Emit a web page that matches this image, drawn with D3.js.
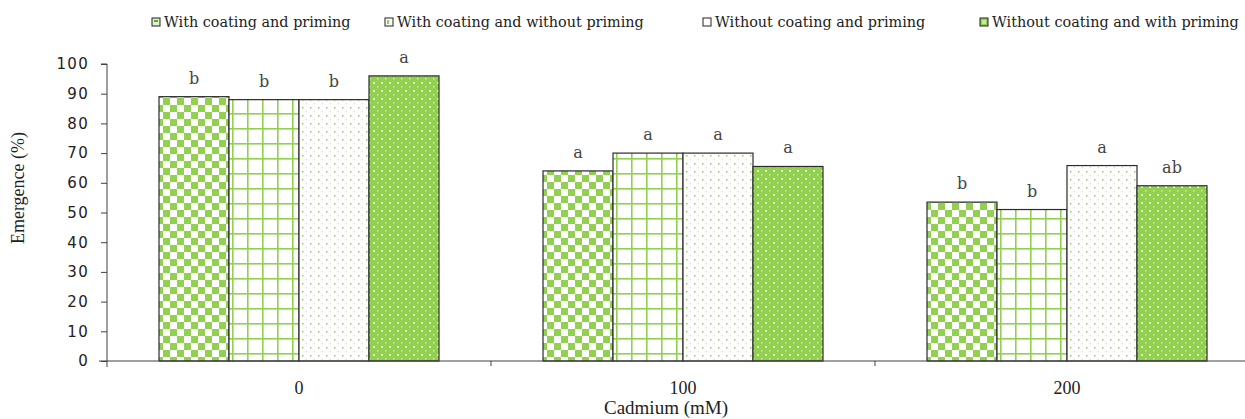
<!DOCTYPE html>
<html lang="en">
  <head>
    <meta charset="utf-8">
    <title>Emergence by cadmium level</title>
    <script src="https://d3js.org/d3.v7.min.js"></script>
    <style type="text/css">
      body,html{
        margin: 0;
        padding: 0;
        background: #fff;
      }
      .axis path, .axis line{
        stroke: #404040;
      }
      .legend text{
        font-family: "DejaVu Serif", serif;
        font-size: 14.4px;
        fill: #222;
      }
    </style>
  </head>
  <body>
    <script type="text/javascript">

      var w = 1245;
      var h = 419;

      // data
      var categories = ["0", "100", "200"];
      var seriesNames = [
        "With coating and priming",
        "With coating and without priming",
        "Without coating and priming",
        "Without coating and with priming"
      ];
      var values = [
        [89, 64, 53.5],
        [88, 70, 51],
        [88, 70, 65.8],
        [96, 65.5, 59]
      ];
      var letters = [
        ["b", "a", "b"],
        ["b", "a", "b"],
        ["b", "a", "a"],
        ["a", "a", "ab"]
      ];
      var yTicks = [0, 10, 20, 30, 40, 50, 60, 70, 80, 90, 100];

      var green = "#92d050";

      var margin = {top: 64, left: 107, bottom: 58};
      var plotBottom = h - margin.bottom;   // y of value 0
      var bandW = 384;

      var svg = d3.select("body")
        .append("svg")
        .attr("width", w)
        .attr("height", h);

      // patterns
      var defs = svg.append("defs");

      var p0 = defs.append("pattern").attr("id", "pat0")
        .attr("patternUnits", "userSpaceOnUse").attr("width", 14).attr("height", 14);
      p0.append("rect").attr("width", 14).attr("height", 14).attr("fill", "#fff");
      p0.append("rect").attr("width", 7).attr("height", 7).attr("fill", green);
      p0.append("rect").attr("x", 7).attr("y", 7).attr("width", 7).attr("height", 7).attr("fill", green);

      var p1 = defs.append("pattern").attr("id", "pat1")
        .attr("patternUnits", "userSpaceOnUse").attr("width", 15).attr("height", 15)
        .attr("x", 5).attr("y", 8);
      p1.append("rect").attr("width", 15).attr("height", 15).attr("fill", "#fff");
      p1.append("rect").attr("x", 0).attr("y", 0).attr("width", 1.6).attr("height", 15).attr("fill", green);
      p1.append("rect").attr("x", 0).attr("y", 0).attr("width", 15).attr("height", 1.6).attr("fill", green);

      var p2 = defs.append("pattern").attr("id", "pat2")
        .attr("patternUnits", "userSpaceOnUse").attr("width", 8).attr("height", 8);
      p2.append("rect").attr("width", 8).attr("height", 8).attr("fill", "#fff");
      p2.append("rect").attr("x", 3).attr("y", 3).attr("width", 1.5).attr("height", 1.5).attr("fill", green);
      p2.append("rect").attr("x", 7).attr("y", 7).attr("width", 1).attr("height", 1).attr("fill", "#c6e6a4");

      var p3 = defs.append("pattern").attr("id", "pat3")
        .attr("patternUnits", "userSpaceOnUse").attr("width", 8).attr("height", 8);
      p3.append("rect").attr("width", 8).attr("height", 8).attr("fill", green);
      p3.append("rect").attr("x", 2).attr("y", 2).attr("width", 2).attr("height", 2).attr("fill", "#e4f3d4");
      p3.append("rect").attr("x", 6).attr("y", 6).attr("width", 1.5).attr("height", 1.5).attr("fill", "#d2ebb8");

      // scales
      var x = d3.scaleBand()
        .domain(categories)
        .range([margin.left, margin.left + bandW * categories.length])
        .paddingInner(0)
        .paddingOuter(0);

      var xInner = d3.scaleBand()
        .domain(d3.range(seriesNames.length))
        .range([0, x.bandwidth()])
        .paddingOuter(0.743);

      var y = d3.scaleLinear()
        .domain([0, 100])
        .range([plotBottom, margin.top]);

      // bars
      var groups = svg.append("g").selectAll("g")
        .data(categories)
        .enter()
        .append("g")
        .attr("transform", function(d){ return "translate(" + x(d) + ",0)"; });

      seriesNames.forEach(function(s, si){
        groups.append("rect")
          .attr("x", function(d){ return xInner(si); })
          .attr("y", function(d, ci){ return y(values[si][ci]); })
          .attr("width", xInner.bandwidth())
          .attr("height", function(d, ci){ return plotBottom - y(values[si][ci]); })
          .attr("fill", "url(#pat" + si + ")")
          .attr("stroke", "#2b2b2b")
          .attr("stroke-width", 1.2);

        groups.append("text")
          .attr("x", function(d){ return xInner(si) + xInner.bandwidth() / 2; })
          .attr("y", function(d, ci){ return y(values[si][ci]) - 13; })
          .attr("text-anchor", "middle")
          .style("font-family", "'DejaVu Serif', serif")
          .style("font-size", "16px")
          .style("fill", "#444")
          .text(function(d, ci){ return letters[si][ci]; });
      });

      // y axis
      var yAxis = svg.append("g")
        .attr("class", "axis")
        .attr("transform", "translate(" + margin.left + ",0)")
        .call(d3.axisLeft(y).tickValues(yTicks).tickSize(6).tickPadding(12));
      yAxis.selectAll("text")
        .style("font-family", "'DejaVu Sans', sans-serif")
        .style("font-size", "15px")
        .style("letter-spacing", "1.3px")
        .style("fill", "#222");
      yAxis.select(".domain").attr("d", "M0," + (plotBottom + 6) + "V" + margin.top + "H-6");

      // x axis
      var xAxis = svg.append("g")
        .attr("class", "axis")
        .attr("transform", "translate(0," + plotBottom + ")")
        .call(d3.axisBottom(x).tickSize(0).tickPadding(20));
      xAxis.selectAll("text")
        .style("font-family", "'Liberation Serif', serif")
        .style("font-size", "18px")
        .style("fill", "#222");
      xAxis.select(".domain").attr("d", "M" + (margin.left - 8) + ",0H" + (margin.left + bandW * 3));
      // separator ticks between categories
      xAxis.selectAll(".sep")
        .data(categories.slice(1))
        .enter()
        .append("line")
        .attr("class", "sep")
        .attr("x1", function(d){ return x(d); })
        .attr("x2", function(d){ return x(d); })
        .attr("y1", 0)
        .attr("y2", 5);

      // axis titles
      svg.append("text")
        .attr("transform", "translate(24,188) rotate(-90)")
        .attr("text-anchor", "middle")
        .style("font-family", "'Liberation Serif', serif")
        .style("font-size", "18px")
        .style("fill", "#222")
        .text("Emergence (%)");

      svg.append("text")
        .attr("x", 666)
        .attr("y", 414)
        .attr("text-anchor", "middle")
        .style("font-family", "'Liberation Serif', serif")
        .style("font-size", "19px")
        .style("fill", "#222")
        .text("Cadmium (mM)");

      // legend
      var legendX = [152, 385, 703, 980];
      var legend = svg.append("g").attr("class", "legend")
        .selectAll("g")
        .data(seriesNames)
        .enter()
        .append("g")
        .attr("transform", function(d, i){ return "translate(" + legendX[i] + ",18)"; });

      legend.append("rect")
        .attr("width", 8)
        .attr("height", 8)
        .attr("fill", function(d, i){ return ["#dff0cc", "#fff", "#fff", green][i]; })
        .attr("stroke", "#222")
        .attr("stroke-width", 1);
      legend.append("rect")
        .attr("x", 2).attr("y", 2)
        .attr("width", function(d, i){ return i == 0 ? 4 : (i == 3 ? 4 : 2); })
        .attr("height", function(d, i){ return i == 0 ? 2 : 4; })
        .attr("fill", function(d, i){ return ["#5fa82a", green, "#fff", "#c7e8a5"][i]; });

      legend.append("text")
        .attr("x", 12)
        .attr("y", 9)
        .text(function(d){ return d; });

    </script>
  </body>
</html>
